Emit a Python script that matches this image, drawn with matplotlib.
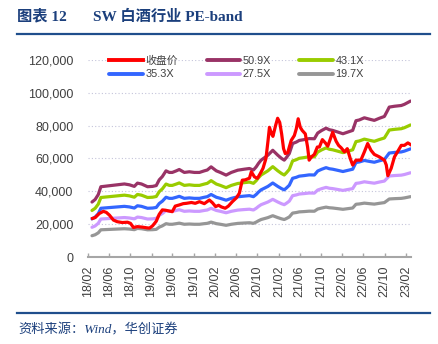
import pandas as pd
import numpy as np
import matplotlib
matplotlib.use('Agg')
import matplotlib.pyplot as plt
import matplotlib.dates as mdates
from matplotlib.ticker import FuncFormatter

plt.rcParams['font.family'] = ['Liberation Sans', 'Noto Sans CJK SC']

# 收盘价（申万白酒指数）
close_dates = [
    '2018-02-27', '2018-03-14', '2018-04-07', '2018-04-30', '2018-05-17', '2018-06-04',
    '2018-06-27', '2018-07-19', '2018-08-17', '2018-09-16', '2018-10-03', '2018-10-20',
    '2018-11-12', '2018-12-10', '2019-01-03', '2019-01-20', '2019-02-07', '2019-02-28',
    '2019-03-17', '2019-04-04', '2019-04-21', '2019-05-14', '2019-05-31', '2019-06-17',
    '2019-07-10', '2019-08-02', '2019-08-20', '2019-09-18', '2019-10-10', '2019-11-03',
    '2019-12-01', '2019-12-30', '2020-01-17', '2020-02-04', '2020-02-21', '2020-03-08',
    '2020-03-30', '2020-04-17', '2020-05-10', '2020-06-02', '2020-06-19', '2020-07-06',
    '2020-07-23', '2020-08-16', '2020-08-27', '2020-09-14', '2020-10-01', '2020-10-18',
    '2020-11-02', '2020-11-19', '2020-12-01', '2020-12-09', '2020-12-21', '2020-12-29',
    '2021-01-13', '2021-01-25', '2021-02-06', '2021-02-17', '2021-02-28', '2021-03-10',
    '2021-03-24', '2021-04-02', '2021-04-13', '2021-05-01', '2021-05-12', '2021-05-23',
    '2021-06-04', '2021-06-15', '2021-07-03', '2021-07-16', '2021-07-25', '2021-08-07',
    '2021-08-24', '2021-09-10', '2021-09-22', '2021-10-09', '2021-10-26', '2021-11-09',
    '2021-11-24', '2021-12-07', '2021-12-27', '2022-01-10', '2022-01-25', '2022-02-13',
    '2022-03-01', '2022-03-18', '2022-04-01', '2022-04-20', '2022-05-18', '2022-06-07',
    '2022-06-26', '2022-07-15', '2022-08-03', '2022-09-01', '2022-09-30', '2022-10-11',
    '2022-10-20', '2022-11-08', '2022-11-27', '2022-12-14', '2023-01-05', '2023-01-23',
    '2023-02-12', '2023-02-27',
]
close_values = [
    23500, 24000, 26500, 27800, 27200, 25500,
    22500, 21500, 21000, 21200, 20500, 18000,
    18500, 18200, 17800, 17600, 19000, 21800,
    26000, 28700, 28500, 28000, 27600, 31000,
    31700, 32500, 32700, 33200, 32700, 33700,
    32500, 34700, 33000, 30700, 31500, 30500,
    29700, 31000, 33700, 36000, 38800, 46800,
    47000, 48000, 51900, 48800, 47900, 51000,
    54000, 60000, 71000, 79000, 75000, 73500,
    80000, 84500, 82000, 75000, 66000, 63000,
    63500, 67000, 71000, 74000, 78000, 84200,
    79000, 77100, 75000, 67000, 59000, 61000,
    62500, 67000, 67000, 71500, 69500, 67500,
    72000, 76000, 70500, 68000, 66500, 64000,
    66000, 60000, 56000, 59000, 59000, 64000,
    69100, 65000, 62500, 61000, 59000, 56000,
    49500, 54000, 61000, 64000, 68000, 68000,
    69500, 68500,
]

# 每单位指数对应的盈利（PE-band 基准）
eps_dates = [
    '2018-02-24', '2018-03-14', '2018-04-01', '2018-04-16', '2018-06-04', '2018-07-19',
    '2018-08-29', '2018-09-27', '2018-10-25', '2018-11-12', '2018-12-05', '2019-01-09',
    '2019-02-07', '2019-02-28', '2019-03-17', '2019-04-04', '2019-04-25', '2019-05-14',
    '2019-05-31', '2019-06-23', '2019-07-10', '2019-08-08', '2019-09-06', '2019-10-05',
    '2019-11-03', '2019-12-01', '2019-12-18', '2020-01-09', '2020-02-08', '2020-03-02',
    '2020-04-04', '2020-05-04', '2020-06-10', '2020-07-18', '2020-08-16', '2020-09-08',
    '2020-09-24', '2020-10-07', '2020-10-22', '2020-11-11', '2020-11-30', '2020-12-28',
    '2021-01-26', '2021-02-17', '2021-03-04', '2021-03-16', '2021-04-02', '2021-04-21',
    '2021-05-12', '2021-05-29', '2021-06-27', '2021-07-25', '2021-08-24', '2021-09-12',
    '2021-10-04', '2021-10-30', '2021-11-18', '2021-12-07', '2022-01-06', '2022-02-04',
    '2022-03-01', '2022-04-01', '2022-04-20', '2022-05-09', '2022-06-07', '2022-07-05',
    '2022-08-03', '2022-09-01', '2022-09-30', '2022-10-17', '2022-10-28', '2022-11-27',
    '2023-01-05', '2023-01-23', '2023-02-10', '2023-02-27',
]
eps_values = [
    658, 688, 747, 841, 853, 864,
    874, 864, 845, 884, 874, 841,
    845, 855, 923, 963, 1031, 1012,
    1012, 1031, 1047, 1012, 1020, 1012,
    1012, 1031, 1041, 1079, 1031, 1012,
    980, 1012, 1039, 1051, 1059, 1041,
    1079, 1120, 1159, 1189, 1218, 1277,
    1218, 1179, 1159, 1189, 1238, 1358,
    1375, 1395, 1405, 1417, 1415, 1483,
    1513, 1542, 1523, 1515, 1495, 1475,
    1493, 1515, 1631, 1640, 1666, 1650,
    1635, 1660, 1682, 1749, 1794, 1804,
    1813, 1827, 1847, 1866,
]

pe_multiples = [50.9, 43.1, 35.3, 27.5, 19.7]
band_colors = ['#993366', '#99CC00', '#3366FF', '#CC99FF', '#969696']
close_color = '#FF0000'

close_dates = pd.to_datetime(close_dates)
eps_dates = pd.to_datetime(eps_dates)
eps_values = np.array(eps_values, dtype=float)

fig = plt.figure(figsize=(4.38, 3.44), dpi=100)
ax = fig.add_axes([0.2009, 0.2529, 0.7371, 0.5727])

lines = {}
for pe, col in zip(pe_multiples, band_colors):
    ln, = ax.plot(eps_dates, eps_values * pe, color=col, lw=2.3,
                  solid_capstyle='round', label=f'{pe}X')
    lines[pe] = ln
close_line, = ax.plot(close_dates, close_values, color=close_color, lw=2.3,
                      label='收盘价', zorder=5)

ax.set_ylim(0, 120000)
ax.set_xlim(pd.Timestamp('2018-02-01'), pd.Timestamp('2023-03-01'))
ax.set_yticks(np.arange(0, 120001, 20000))
ax.yaxis.set_major_formatter(FuncFormatter(lambda v, p: f'{int(v):,}'))
ax.xaxis.set_major_locator(mdates.MonthLocator(bymonth=[2, 6, 10]))
ax.xaxis.set_major_formatter(mdates.DateFormatter('%y/%m'))

ax.grid(axis='y', color='#C4C4DA', linestyle=(0, (1, 2)), lw=0.8)
ax.set_axisbelow(True)
for s in ['top', 'right', 'left']:
    ax.spines[s].set_visible(False)
ax.spines['bottom'].set_color('#A6A6A6')
ax.spines['bottom'].set_linewidth(1.5)

ax.tick_params(axis='y', length=0, pad=10.5, labelsize=9, labelcolor='#404040')
ax.tick_params(axis='x', direction='in', length=3, width=1, color='#A6A6A6',
               pad=6, labelsize=9, labelcolor='#404040', labelrotation=90)

# 图例按行排列：收盘价/50.9X/43.1X，35.3X/27.5X/19.7X
handles = [close_line, lines[35.3], lines[50.9], lines[27.5], lines[43.1], lines[19.7]]
leg = ax.legend(handles=handles, labels=[h.get_label() for h in handles],
                ncol=3, frameon=False, fontsize=7.8, handlelength=3.1,
                handletextpad=0.25, columnspacing=2.6, labelspacing=0.35,
                loc='upper left', bbox_to_anchor=(104 / 438, 1 - 50 / 344),
                bbox_transform=fig.transFigure, borderpad=0, labelcolor='#404040')
for h in leg.get_lines():
    h.set_linewidth(2.8)

# 标题与来源
title_color = '#1B3F7C'
fig.text(17 / 438, 1 - 16.5 / 344, '图表 12', fontsize=11, fontweight='bold',
         color=title_color, va='center', ha='left',
         family=['Liberation Serif', 'Noto Sans CJK SC'])
fig.text(93 / 438, 1 - 16.5 / 344, 'SW 白酒行业 PE-band', fontsize=11, fontweight='bold',
         color=title_color, va='center', ha='left',
         family=['Liberation Serif', 'Noto Sans CJK SC'])
fig.add_artist(plt.Line2D([17 / 438, 430 / 438], [1 - 34 / 344, 1 - 34 / 344],
                          color='#1F4E8C', lw=1.6, transform=fig.transFigure))
fig.add_artist(plt.Line2D([17 / 438, 430 / 438], [1 - 313 / 344, 1 - 313 / 344],
                          color='#1F4E8C', lw=1.6, transform=fig.transFigure))
fig.text(18 / 438, 1 - 330 / 344, '资料来源：Wind，华创证券', fontsize=9.5, style='italic',
         color=title_color, va='center', ha='left',
         family=['Liberation Serif', 'Noto Sans CJK SC'])

fig.savefig('out.png', dpi=100)
